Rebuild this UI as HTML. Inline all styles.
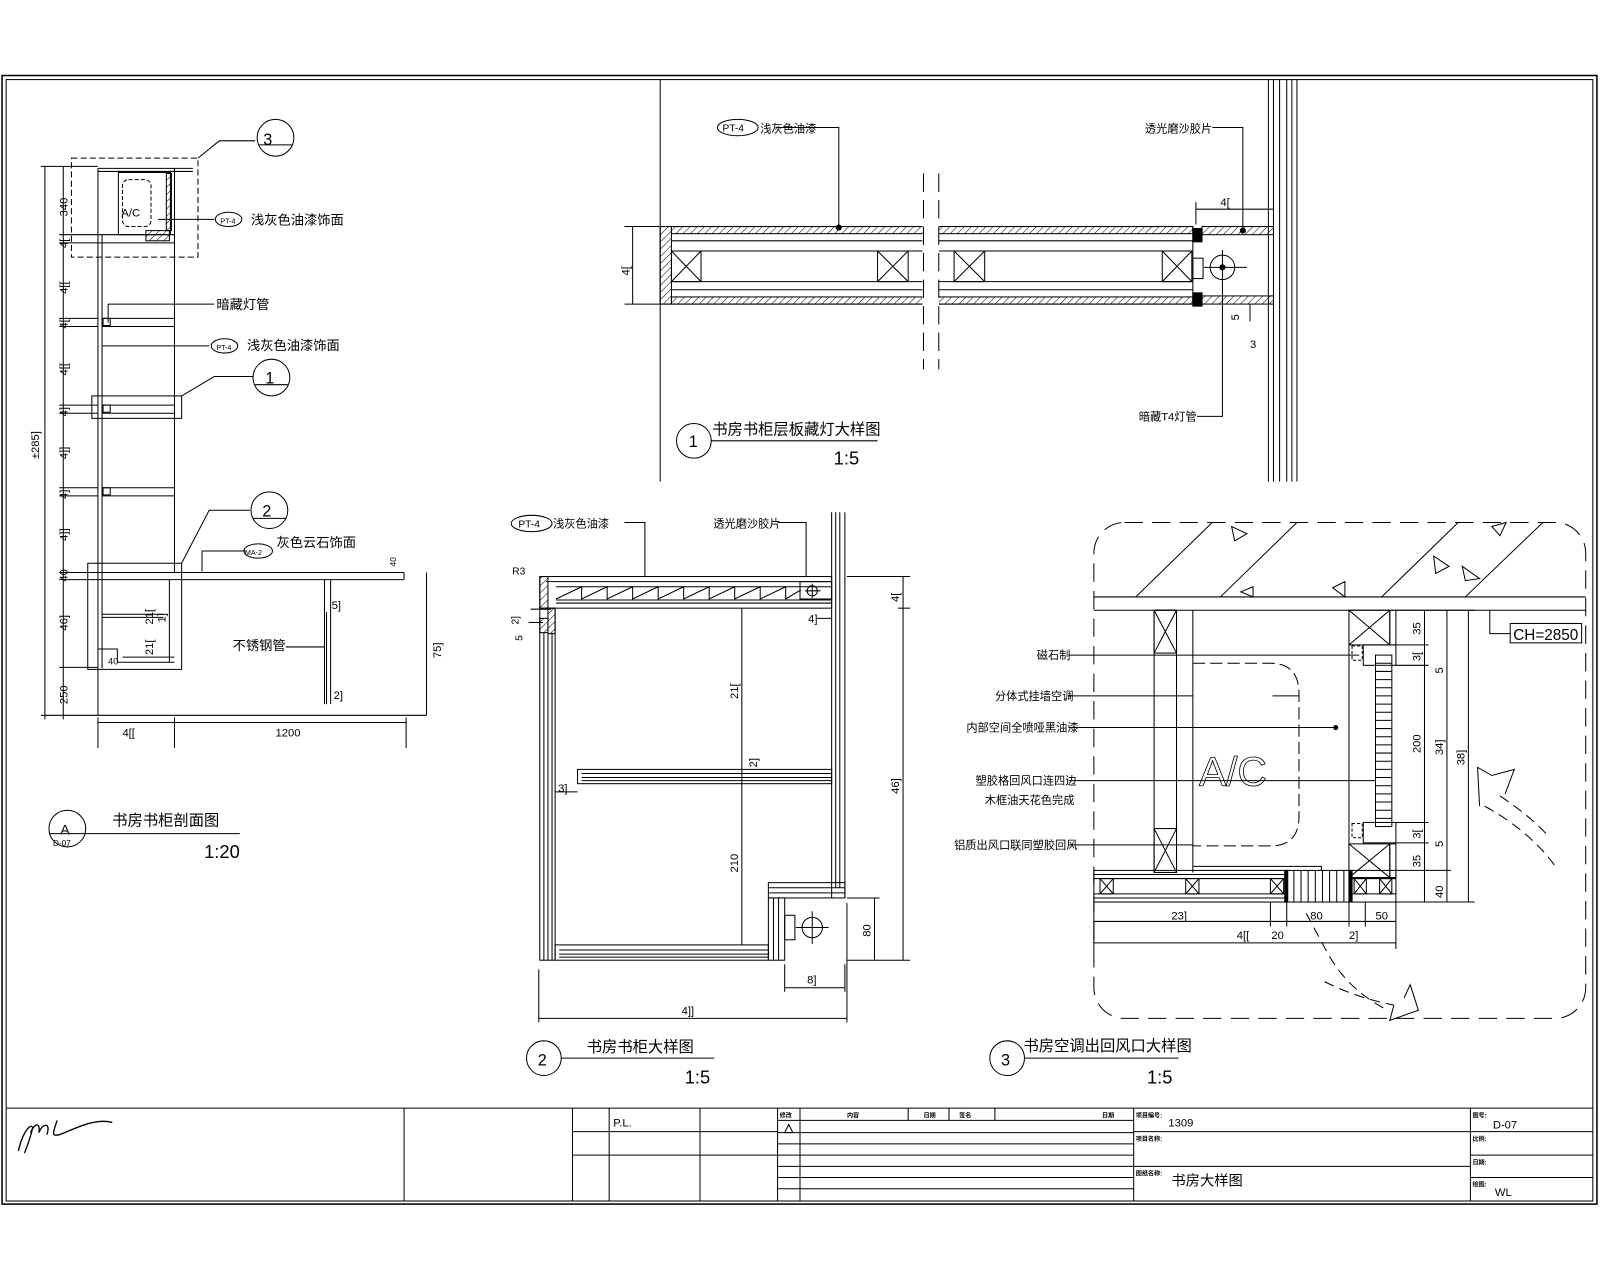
<!DOCTYPE html>
<html><head><meta charset="utf-8"><style>
html,body{margin:0;padding:0;background:#fff;}
svg{display:block}
text{font-family:"Liberation Sans","Noto Sans CJK SC",sans-serif;fill:#000}
</style></head><body>
<svg width="1600" height="1280" viewBox="0 0 1568 1254.4" preserveAspectRatio="none" xmlns="http://www.w3.org/2000/svg">
<defs>
<pattern id="h" width="5" height="5" patternUnits="userSpaceOnUse" patternTransform="rotate(45)"><line x1="0" y1="0" x2="0" y2="5" stroke="#000" stroke-width="1"/></pattern>
</defs>
<rect width="1568" height="1255" fill="#fff"/>
<g fill="none" stroke="#000" stroke-width="1">
<!-- borders -->
<rect x="2" y="74" width="1563" height="1106" stroke-width="1.5"/>
<rect x="6" y="78" width="1555" height="1099"/>
<line x1="647" y1="78" x2="647" y2="472"/>
<!-- title block -->
<line x1="6" y1="1086" x2="1561" y2="1086"/>
<line x1="396" y1="1086" x2="396" y2="1177"/>
<line x1="561" y1="1086" x2="561" y2="1177"/>
<line x1="597" y1="1086" x2="597" y2="1177"/>
<line x1="686" y1="1086" x2="686" y2="1177"/>
<line x1="762" y1="1086" x2="762" y2="1177"/>
<line x1="784" y1="1086" x2="784" y2="1177"/>
<line x1="1111" y1="1086" x2="1111" y2="1177"/>
<line x1="1441" y1="1086" x2="1441" y2="1177"/>
<line x1="561" y1="1109" x2="762" y2="1109"/>
<line x1="561" y1="1132" x2="762" y2="1132"/>
<line x1="762" y1="1098" x2="1111" y2="1098"/>
<line x1="762" y1="1110" x2="1111" y2="1110"/>
<line x1="762" y1="1121" x2="1111" y2="1121"/>
<line x1="762" y1="1132" x2="1111" y2="1132"/>
<line x1="762" y1="1143" x2="1111" y2="1143"/>
<line x1="762" y1="1154" x2="1111" y2="1154"/>
<line x1="762" y1="1165" x2="1111" y2="1165"/>
<line x1="1111" y1="1109" x2="1441" y2="1109"/>
<line x1="1111" y1="1143" x2="1441" y2="1143"/>
<line x1="1441" y1="1109" x2="1561" y2="1109"/>
<line x1="1441" y1="1132" x2="1561" y2="1132"/>
<line x1="1441" y1="1154" x2="1561" y2="1154"/>
<line x1="890" y1="1086" x2="890" y2="1098"/><line x1="930" y1="1086" x2="930" y2="1098"/><line x1="975" y1="1086" x2="975" y2="1098"/>
<path d="M18 1128 C22 1110,30 1100,32 1105 C30 1115,26 1125,24 1130 M30 1110 C34 1100,40 1100,38 1110 C42 1100,50 1100,46 1112 M56 1098 C52 1110,50 1114,58 1112 C70 1108,92 1095,110 1100" stroke-width="1.3"/>
<path d="M769 1110 L773 1102 L777 1110 Z"/>

<!-- ===== Drawing A ===== -->
<rect x="70" y="155" width="124" height="97" stroke-dasharray="6,3"/>
<polyline points="194,155 215,138 250,138"/>
<circle cx="270" cy="135" r="18"/><line x1="254" y1="142" x2="286" y2="142"/>
<line x1="44" y1="163" x2="44" y2="705"/>
<line x1="62" y1="163" x2="62" y2="705"/>
<line x1="40" y1="163" x2="96" y2="163"/>
<line x1="40" y1="701" x2="96" y2="701"/>
<g stroke-width="1">
<line x1="58" y1="230" x2="96" y2="230"/><line x1="58" y1="238" x2="96" y2="238"/>
<line x1="58" y1="312" x2="96" y2="312"/><line x1="58" y1="320" x2="96" y2="320"/>
<line x1="58" y1="397" x2="96" y2="397"/><line x1="58" y1="405" x2="96" y2="405"/>
<line x1="58" y1="478" x2="96" y2="478"/><line x1="58" y1="486" x2="96" y2="486"/>
<line x1="58" y1="561" x2="96" y2="561"/><line x1="58" y1="568" x2="96" y2="568"/>
<line x1="58" y1="654" x2="96" y2="654"/>
</g>
<line x1="96" y1="165" x2="96" y2="701"/>
<line x1="100" y1="230" x2="100" y2="655"/>
<line x1="171" y1="165" x2="171" y2="561"/>
<line x1="96" y1="165" x2="189" y2="165"/><line x1="96" y1="168" x2="189" y2="168"/>
<rect x="116" y="169" width="51" height="61"/>
<rect x="120" y="176" width="28" height="46" rx="6" stroke-dasharray="4,2"/>
<line x1="96" y1="230" x2="171" y2="230"/><line x1="96" y1="238" x2="171" y2="238"/>
<rect x="143" y="226" width="23" height="10" fill="url(#h)"/>
<rect x="163" y="170" width="5" height="56" fill="url(#h)"/>
<line x1="100" y1="312" x2="171" y2="312"/><line x1="100" y1="320" x2="171" y2="320"/>
<rect x="101" y="312" width="7" height="7"/>
<line x1="100" y1="397" x2="171" y2="397"/><line x1="100" y1="405" x2="171" y2="405"/>
<rect x="101" y="397" width="7" height="7"/>
<rect x="90" y="388" width="88" height="22"/>
<polyline points="178,388 210,369 248,369"/>
<circle cx="266" cy="370" r="18"/><line x1="250" y1="377" x2="282" y2="377"/>
<line x1="100" y1="478" x2="171" y2="478"/><line x1="100" y1="486" x2="171" y2="486"/>
<rect x="101" y="478" width="7" height="7"/>
<line x1="96" y1="561" x2="396" y2="561"/><line x1="96" y1="568" x2="396" y2="568"/>
<line x1="396" y1="561" x2="396" y2="568"/>
<rect x="86" y="552" width="92" height="104"/>
<polyline points="178,552 205,500 245,500"/>
<circle cx="264" cy="500" r="18"/><line x1="248" y1="508" x2="280" y2="508"/>
<line x1="100" y1="602" x2="160" y2="602"/><line x1="100" y1="605" x2="160" y2="605"/>
<line x1="166" y1="568" x2="166" y2="649"/>
<polyline points="96,636 115,636 115,649 171,649"/>
<line x1="120" y1="644" x2="171" y2="644"/>
<polyline points="198,560 198,540 240,540"/>
<ellipse cx="253" cy="540" rx="14" ry="7"/>
<path d="M318 568 L318 690 M324 568 L324 690 M320 600 L320 690"/>
<line x1="280" y1="634" x2="318" y2="634"/>
<line x1="96" y1="701" x2="418" y2="701"/>
<line x1="418" y1="561" x2="418" y2="701"/>
<line x1="96" y1="708" x2="398" y2="708"/>
<line x1="96" y1="703" x2="96" y2="733"/><line x1="171" y1="703" x2="171" y2="733"/><line x1="398" y1="703" x2="398" y2="733"/>
<polyline points="100,320 130,320"/>
<line x1="100" y1="339" x2="205" y2="339"/>
<ellipse cx="220" cy="339" rx="13" ry="7"/>
<polyline points="106,316 106,298 210,298"/>
<polyline points="155,215 210,215"/><ellipse cx="224" cy="215" rx="13" ry="7"/>
<circle cx="66" cy="812" r="18"/><line x1="48" y1="817" x2="235" y2="817"/>

<!-- ===== Drawing 1 ===== -->
<rect x="647" y="222" width="522" height="76" fill="#fff"/>
<rect x="658" y="222" width="511" height="7" fill="url(#h)"/>
<rect x="658" y="291" width="511" height="7" fill="url(#h)"/>
<rect x="647" y="222" width="11" height="76" fill="url(#h)"/>
<line x1="658" y1="236" x2="1169" y2="236"/><line x1="658" y1="246" x2="1169" y2="246"/>
<line x1="658" y1="276" x2="1169" y2="276"/><line x1="658" y1="284" x2="1169" y2="284"/>
<g>
<rect x="658" y="246" width="29" height="30"/><path d="M658 246 L687 276 M687 246 L658 276"/>
<rect x="860" y="246" width="30" height="30"/><path d="M860 246 L890 276 M890 246 L860 276"/>
<rect x="935" y="246" width="30" height="30"/><path d="M935 246 L965 276 M965 246 L935 276"/>
<rect x="1139" y="246" width="29" height="30"/><path d="M1139 246 L1168 276 M1168 246 L1139 276"/>
</g>
<rect x="904" y="200" width="16" height="120" fill="#fff" stroke="none"/>
<line x1="905" y1="170" x2="905" y2="362" stroke-dasharray="18,8"/>
<line x1="920" y1="170" x2="920" y2="362" stroke-dasharray="18,8"/>
<rect x="1169" y="224" width="9" height="13" fill="#000"/>
<rect x="1169" y="287" width="9" height="13" fill="#000"/>
<rect x="1178" y="222" width="70" height="8" fill="url(#h)"/>
<rect x="1178" y="290" width="70" height="8" fill="url(#h)"/>
<rect x="1169" y="253" width="10" height="20"/>
<circle cx="1198" cy="262" r="12"/>
<path d="M1180 262 L1222 262 M1198 245 L1198 340"/>
<circle cx="1198" cy="262" r="2.5" fill="#000"/>
<line x1="1243" y1="78" x2="1243" y2="472"/><line x1="1248" y1="78" x2="1248" y2="472"/>
<line x1="1254" y1="78" x2="1254" y2="472"/><line x1="1261" y1="78" x2="1261" y2="472"/>
<line x1="1266" y1="78" x2="1266" y2="472"/><line x1="1271" y1="78" x2="1271" y2="472"/>
<line x1="1172" y1="205" x2="1248" y2="205"/><line x1="1172" y1="198" x2="1172" y2="220"/>
<line x1="620" y1="222" x2="620" y2="298"/><line x1="612" y1="222" x2="647" y2="222"/><line x1="612" y1="298" x2="647" y2="298"/>
<polyline points="760,125 822,125 822,222"/><circle cx="822" cy="223" r="2.5" fill="#000"/>
<ellipse cx="723" cy="125" rx="20" ry="8"/>
<polyline points="1188,125 1218,125 1218,226"/><circle cx="1218" cy="226" r="2.5" fill="#000"/>
<polyline points="1173,408 1198,408 1198,340"/>
<line x1="1225" y1="298" x2="1225" y2="315"/>
<circle cx="680" cy="432" r="17"/><line x1="697" y1="432" x2="860" y2="432"/>

<!-- ===== Drawing 2 ===== -->
<line x1="815" y1="502" x2="815" y2="880"/><line x1="819" y1="502" x2="819" y2="870"/>
<line x1="823" y1="502" x2="823" y2="870"/><line x1="828" y1="502" x2="828" y2="880"/>
<rect x="529" y="565" width="286" height="31"/>
<line x1="535" y1="570" x2="815" y2="570"/><line x1="545" y1="575" x2="815" y2="575"/>
<line x1="545" y1="588" x2="815" y2="588"/><line x1="545" y1="591" x2="815" y2="591"/>
<path d="M545 587 L570 575 L570 587 L595 575 L595 587 L620 575 L620 587 L645 575 L645 587 L670 575 L670 587 L695 575 L695 587 L720 575 L720 587 L745 575 L745 587 L770 575 L770 587 L785 578"/>
<rect x="529" y="565" width="8" height="31" fill="url(#h)"/>
<rect x="784" y="570" width="31" height="17"/>
<circle cx="796" cy="579" r="5"/><path d="M789 579 L804 579 M796 572 L796 586"/>
<rect x="529" y="596" width="15" height="345"/>
<line x1="533" y1="620" x2="533" y2="941"/><line x1="537" y1="620" x2="537" y2="941"/><line x1="541" y1="620" x2="541" y2="941"/>
<rect x="537" y="596" width="7" height="25" fill="url(#h)"/>
<rect x="529" y="606" width="8" height="14" fill="url(#h)"/>
<rect x="566" y="754" width="249" height="14"/>
<line x1="570" y1="758" x2="815" y2="758"/><line x1="570" y1="762" x2="815" y2="762"/><line x1="570" y1="765" x2="815" y2="765"/>
<rect x="544" y="926" width="209" height="15"/>
<line x1="548" y1="931" x2="753" y2="931"/><line x1="548" y1="935" x2="753" y2="935"/><line x1="548" y1="938" x2="753" y2="938"/>
<rect x="753" y="865" width="75" height="15"/>
<line x1="753" y1="870" x2="828" y2="870"/><line x1="753" y1="875" x2="828" y2="875"/>
<rect x="753" y="880" width="16" height="61"/>
<line x1="758" y1="880" x2="758" y2="941"/><line x1="763" y1="880" x2="763" y2="941"/>
<rect x="769" y="897" width="10" height="24"/>
<circle cx="796" cy="909" r="10"/><path d="M780 909 L812 909 M796 893 L796 925"/>
<line x1="727" y1="596" x2="727" y2="926"/>
<line x1="885" y1="565" x2="885" y2="941"/>
<line x1="830" y1="565" x2="892" y2="565"/><line x1="880" y1="596" x2="892" y2="596"/><line x1="830" y1="941" x2="892" y2="941"/>
<line x1="857" y1="880" x2="857" y2="941"/><line x1="830" y1="880" x2="862" y2="880"/>
<line x1="769" y1="968" x2="828" y2="968"/><line x1="769" y1="945" x2="769" y2="972"/><line x1="828" y1="945" x2="828" y2="972"/>
<line x1="528" y1="998" x2="830" y2="998"/><line x1="528" y1="950" x2="528" y2="1002"/><line x1="830" y1="885" x2="830" y2="1002"/>
<line x1="544" y1="776" x2="566" y2="776"/>
<line x1="800" y1="606" x2="815" y2="606"/>
<ellipse cx="521" cy="513" rx="20" ry="8"/>
<polyline points="612,512 632,512 632,565"/>
<polyline points="762,512 790,512 790,565"/>
<line x1="520" y1="597" x2="540" y2="597"/><line x1="518" y1="610" x2="532" y2="610"/>
<circle cx="533" cy="1037" r="17"/><line x1="550" y1="1037" x2="700" y2="1037"/>

<!-- ===== Drawing 3 ===== -->
<rect x="1072" y="512" width="482" height="486" rx="30" stroke-dasharray="18,9"/>
<line x1="1072" y1="585" x2="1554" y2="585"/><line x1="1072" y1="598" x2="1554" y2="598"/>
<path d="M1113 585 L1188 512 M1196 585 L1271 512 M1354 585 L1429 512 M1436 585 L1512 512"/>
<path d="M1207 516 L1222 523 L1210 530 Z M1405 545 L1420 555 L1407 562 Z M1433 555 L1450 567 L1436 569 Z M1462 516 L1476 512 L1470 525 Z M1306 576 L1318 570 L1318 585 Z M1216 580 L1228 575 L1228 585 Z"/>
<rect x="1131" y="598" width="22" height="257"/>
<line x1="1169" y1="598" x2="1169" y2="855"/>
<rect x="1131" y="598" width="22" height="42"/><path d="M1131 598 L1153 640 M1153 598 L1131 640"/>
<rect x="1131" y="812" width="22" height="43"/><path d="M1131 812 L1153 855 M1153 812 L1131 855"/>
<path d="M1169 650 L1245 650 Q1273 650 1273 680 L1273 800 Q1273 829 1245 829 L1169 829" stroke-dasharray="12,5"/>
<line x1="1322" y1="598" x2="1322" y2="855"/>
<rect x="1322" y="598" width="40" height="34"/><path d="M1322 598 L1362 632 M1362 598 L1322 632"/>
<rect x="1322" y="827" width="40" height="33"/><path d="M1322 827 L1362 860 M1362 827 L1322 860"/>
<rect x="1362" y="598" width="6" height="34"/><rect x="1362" y="827" width="6" height="33"/>
<rect x="1325" y="633" width="10" height="14" stroke-dasharray="3,2"/><rect x="1325" y="807" width="10" height="14" stroke-dasharray="3,2"/>
<rect x="1336" y="632" width="32" height="20"/><rect x="1336" y="806" width="32" height="20"/>
<rect x="1348" y="642" width="16" height="168"/>
<path d="M1348 650 H1364 M1348 658 H1364 M1348 666 H1364 M1348 674 H1364 M1348 682 H1364 M1348 690 H1364 M1348 698 H1364 M1348 706 H1364 M1348 714 H1364 M1348 722 H1364 M1348 730 H1364 M1348 738 H1364 M1348 746 H1364 M1348 754 H1364 M1348 762 H1364 M1348 770 H1364 M1348 778 H1364 M1348 786 H1364 M1348 794 H1364 M1348 802 H1364"/>
<rect x="1072" y="853" width="189" height="31"/>
<line x1="1072" y1="857" x2="1261" y2="857"/><line x1="1072" y1="861" x2="1261" y2="861"/>
<line x1="1072" y1="876" x2="1261" y2="876"/><line x1="1072" y1="880" x2="1261" y2="880"/>
<rect x="1078" y="861" width="13" height="15"/><path d="M1078 861 L1091 876 M1091 861 L1078 876"/>
<rect x="1162" y="861" width="13" height="15"/><path d="M1162 861 L1175 876 M1175 861 L1162 876"/>
<rect x="1245" y="861" width="13" height="15"/><path d="M1245 861 L1258 876 M1258 861 L1245 876"/>
<rect x="1259" y="853" width="3" height="31" fill="#000"/>
<rect x="1261" y="853" width="61" height="31"/>
<path d="M1268 853 V884 M1275 853 V884 M1282 853 V884 M1289 853 V884 M1296 853 V884 M1303 853 V884 M1310 853 V884 M1317 853 V884"/>
<rect x="1322" y="853" width="3" height="31" fill="#000"/>
<rect x="1325" y="853" width="43" height="31"/>
<line x1="1325" y1="861" x2="1368" y2="861"/><line x1="1325" y1="876" x2="1368" y2="876"/>
<rect x="1327" y="861" width="12" height="15"/><path d="M1327 861 L1339 876 M1339 861 L1327 876"/>
<rect x="1352" y="861" width="12" height="15"/><path d="M1352 861 L1364 876 M1364 861 L1352 876"/>
<polyline points="1169,849 1295,849 1295,853"/>
<line x1="1396" y1="598" x2="1396" y2="884"/><line x1="1418" y1="598" x2="1418" y2="884"/><line x1="1439" y1="598" x2="1439" y2="884"/>
<line x1="1368" y1="598" x2="1445" y2="598"/><line x1="1368" y1="632" x2="1400" y2="632"/><line x1="1368" y1="652" x2="1400" y2="652"/>
<line x1="1368" y1="806" x2="1400" y2="806"/><line x1="1368" y1="826" x2="1400" y2="826"/><line x1="1368" y1="853" x2="1422" y2="853"/>
<line x1="1368" y1="884" x2="1445" y2="884"/>
<polyline points="1460,598 1460,621 1480,621"/>
<rect x="1480" y="611" width="70" height="19"/>
<line x1="1072" y1="903" x2="1368" y2="903"/><line x1="1072" y1="924" x2="1368" y2="924"/>
<path d="M1072 884 V930 M1245 884 V908 M1261 884 V908 M1322 884 V908 M1338 884 V908 M1368 884 V930"/>
<path d="M1280 895 L1300 932 Q1320 970 1360 990" stroke-dasharray="10,6"/>
<path d="M1298 962 Q1330 978 1366 985" stroke-dasharray="10,6"/>
<path d="M1366 985 L1362 1000 L1390 990 L1382 965 L1376 978"/>
<path d="M1455 790 Q1500 815 1525 850" stroke-dasharray="10,6"/>
<path d="M1470 780 Q1500 800 1518 820" stroke-dasharray="10,6"/>
<path d="M1475 778 L1484 754 L1462 760 L1448 752 L1450 790"/>
<line x1="1047" y1="642" x2="1332" y2="642"/>
<line x1="1047" y1="682" x2="1169" y2="682"/><line x1="1247" y1="682" x2="1273" y2="682"/>
<line x1="1047" y1="713" x2="1309" y2="713"/><circle cx="1309" cy="713" r="2" fill="#000"/>
<line x1="1047" y1="765" x2="1348" y2="765"/>
<line x1="1047" y1="828" x2="1169" y2="828"/>
<circle cx="987" cy="1037" r="17"/><line x1="1004" y1="1037" x2="1155" y2="1037"/>
</g>
<g font-size="13">
<text x="119" y="212" font-size="11">A/C</text>
<text x="246" y="220">浅灰色油漆饰面</text>
<text x="216" y="219" font-size="7">PT-4</text>
<text x="212" y="303">暗藏灯管</text>
<text x="212" y="343" font-size="7">PT-4</text>
<text x="242" y="343">浅灰色油漆饰面</text>
<text x="240" y="544" font-size="7">MA-2</text>
<text x="271" y="536">灰色云石饰面</text>
<text x="228" y="637">不锈钢管</text>
<text x="258" y="142" font-size="16">3</text>
<text x="260" y="376" font-size="16">1</text>
<text x="257" y="506" font-size="16">2</text>
<text x="120" y="722" font-size="11">4[[</text>
<text x="270" y="722" font-size="11">1200</text>
<text x="325" y="597" font-size="11">5]</text>
<text x="327" y="685" font-size="11">2]</text>
<text x="106" y="651" font-size="9">40</text>
<g font-size="11">
<text transform="translate(38,450) rotate(-90)">±285]</text>
<text transform="translate(66,212) rotate(-90)">340</text>
<text transform="translate(66,243) rotate(-90)">4[</text>
<text transform="translate(66,288) rotate(-90)">4[[</text>
<text transform="translate(66,322) rotate(-90)">4[</text>
<text transform="translate(66,368) rotate(-90)">4[[</text>
<text transform="translate(66,408) rotate(-90)">4]</text>
<text transform="translate(66,450) rotate(-90)">4]]</text>
<text transform="translate(66,489) rotate(-90)">4]</text>
<text transform="translate(66,530) rotate(-90)">4]]</text>
<text transform="translate(66,570) rotate(-90)">40</text>
<text transform="translate(66,618) rotate(-90)">46]</text>
<text transform="translate(66,690) rotate(-90)">250</text>
<text transform="translate(150,612) rotate(-90)">21[</text>
<text transform="translate(150,642) rotate(-90)">21[</text>
<text transform="translate(162,610) rotate(-90)">1]</text>
<text transform="translate(432,645) rotate(-90)">75]</text>
<text transform="translate(388,555) rotate(-90)" font-size="8">40</text>
</g>
<text x="59" y="818" font-size="14">A</text>
<text x="52" y="829" font-size="8">D-07</text>
<text x="110" y="809" font-size="15">书房书柜剖面图</text>
<text x="200" y="841" font-size="18">1:20</text>

<text x="708" y="129" font-size="10">PT-4</text>
<text x="745" y="130" font-size="11">浅灰色油漆</text>
<text x="1122" y="130" font-size="11">透光磨沙胶片</text>
<text x="1196" y="202" font-size="11">4[</text>
<text transform="translate(617,270) rotate(-90)" font-size="11">4[</text>
<text transform="translate(1214,314) rotate(-90)" font-size="11">5</text>
<text x="1225" y="341" font-size="11">3</text>
<text x="1116" y="412" font-size="11">暗藏T4灯管</text>
<text x="675" y="438" font-size="16">1</text>
<text x="698" y="426" font-size="15">书房书柜层板藏灯大样图</text>
<text x="817" y="455" font-size="18">1:5</text>

<text x="508" y="517" font-size="10">PT-4</text>
<text x="542" y="517" font-size="11">浅灰色油漆</text>
<text x="699" y="517" font-size="11">透光磨沙胶片</text>
<text x="502" y="563" font-size="10">R3</text>
<text transform="translate(508,612) rotate(-90)" font-size="10">2]</text>
<text transform="translate(512,628) rotate(-90)" font-size="10">5</text>
<text x="792" y="610" font-size="11">4]</text>
<text transform="translate(723,685) rotate(-90)" font-size="11">21[</text>
<text transform="translate(742,752) rotate(-90)" font-size="11">2]</text>
<text x="547" y="776" font-size="11">3]</text>
<text transform="translate(723,855) rotate(-90)" font-size="11">210</text>
<text transform="translate(881,590) rotate(-90)" font-size="11">4[</text>
<text transform="translate(881,778) rotate(-90)" font-size="11">46]</text>
<text transform="translate(853,918) rotate(-90)" font-size="11">80</text>
<text x="791" y="964" font-size="11">8]</text>
<text x="668" y="994" font-size="11">4]]</text>
<text x="527" y="1044" font-size="16">2</text>
<text x="575" y="1031" font-size="15">书房书柜大样图</text>
<text x="671" y="1062" font-size="18">1:5</text>

<text x="1175" y="770" font-size="40" font-weight="normal" fill="none" stroke="#000" stroke-width="0.8" style="fill:none">A/C</text>
<text x="1483" y="627" font-size="15">CH=2850</text>
<text x="1016" y="646" font-size="11">磁石制</text>
<text x="975" y="686" font-size="11">分体式挂墙空调</text>
<text x="947" y="717" font-size="11">内部空间全喷哑黑油漆</text>
<text x="956" y="769" font-size="11">塑胶格回风口连四边</text>
<text x="965" y="788" font-size="11">木框油天花色完成</text>
<text x="935" y="832" font-size="11">铝质出风口联同塑胶回风</text>
<g font-size="11">
<text x="1148" y="901">23]</text>
<text x="1284" y="901">80</text>
<text x="1348" y="901">50</text>
<text x="1212" y="920">4[[</text>
<text x="1246" y="920">20</text>
<text x="1322" y="920">2]</text>
<text transform="translate(1392,622) rotate(-90)">35</text>
<text transform="translate(1392,648) rotate(-90)">3[</text>
<text transform="translate(1414,660) rotate(-90)">5</text>
<text transform="translate(1392,738) rotate(-90)">200</text>
<text transform="translate(1414,740) rotate(-90)">34]</text>
<text transform="translate(1435,750) rotate(-90)">38]</text>
<text transform="translate(1392,822) rotate(-90)">3[</text>
<text transform="translate(1392,850) rotate(-90)">35</text>
<text transform="translate(1414,830) rotate(-90)">5</text>
<text transform="translate(1414,880) rotate(-90)">40</text>
</g>
<text x="981" y="1044" font-size="16">3</text>
<text x="1003" y="1030" font-size="15">书房空调出回风口大样图</text>
<text x="1124" y="1062" font-size="18">1:5</text>

<text x="601" y="1104" font-size="11">P.L.</text>
<text x="1145" y="1104" font-size="11">1309</text>
<text x="1463" y="1106" font-size="11">D-07</text>
<text x="1148" y="1162" font-size="14">书房大样图</text>
<text x="1465" y="1172" font-size="11">WL</text>
<g font-size="6" font-weight="bold">
<text x="1113" y="1095">项目编号:</text><text x="1113" y="1118">项目名称:</text><text x="1113" y="1152">图纸名称:</text>
<text x="1443" y="1095">图号:</text><text x="1443" y="1118">比例:</text><text x="1443" y="1141">日期:</text><text x="1443" y="1163">绘图:</text>
<text x="764" y="1095">修改</text><text x="830" y="1095">内容</text><text x="905" y="1095">日期</text><text x="940" y="1095">签名</text><text x="1080" y="1095">日期</text>
</g>
</g>
</svg>
</body></html>
